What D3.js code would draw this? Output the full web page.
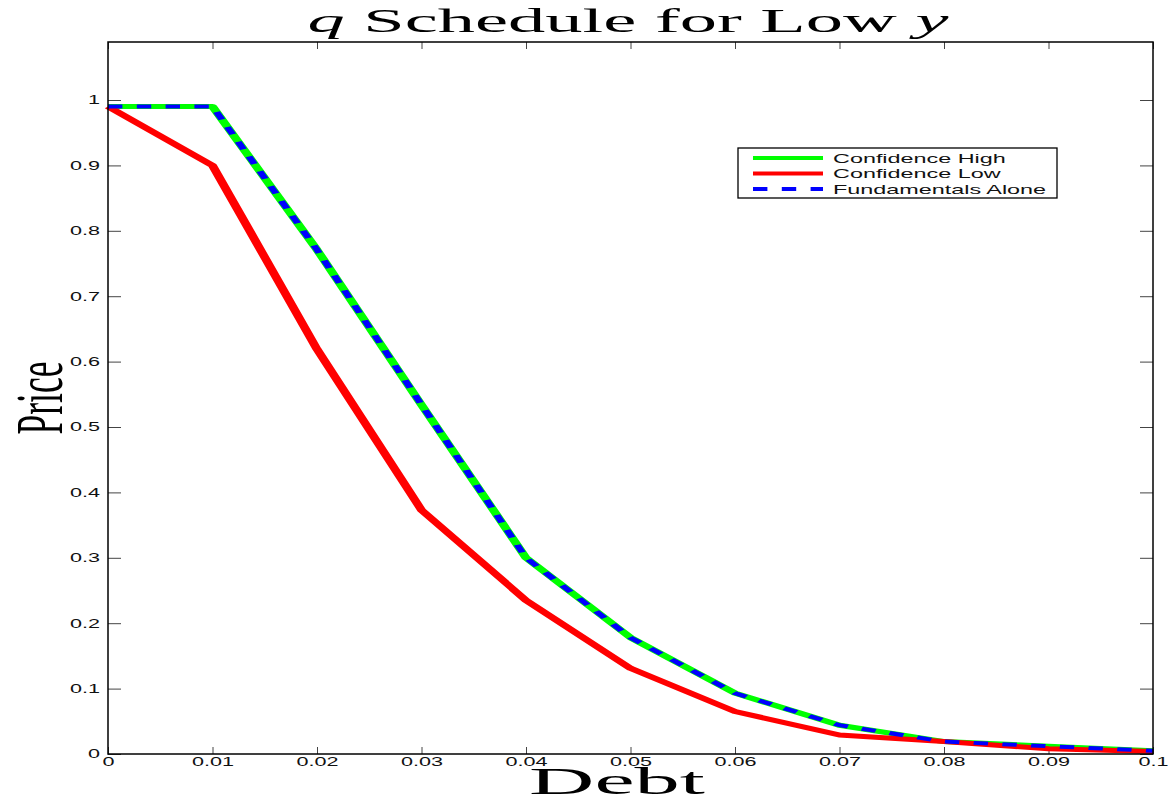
<!DOCTYPE html>
<html>
<head>
<meta charset="utf-8">
<script src="https://cdn.jsdelivr.net/npm/d3@7"></script>
<style>
  html, body { margin: 0; padding: 0; background: #fff; }
  svg { display: block; }
</style>
</head>
<body>
<div id="chart"></div>
<script>
/* ── data ───────────────────────────────────────────── */
const debt = [0, 0.01, 0.02, 0.03, 0.04, 0.05, 0.06, 0.07, 0.08, 0.09, 0.1];
const confHigh = [0.99, 0.99, 0.771, 0.534, 0.300, 0.178, 0.093, 0.044, 0.019, 0.012, 0.005];
const confLow  = [0.99, 0.900, 0.619, 0.373, 0.235, 0.131, 0.065, 0.029, 0.019, 0.008, 0.004];
const fundamentals = [0.99, 0.99, 0.771, 0.534, 0.300, 0.178, 0.093, 0.044, 0.019, 0.012, 0.005];

const xTicks = [0, 0.01, 0.02, 0.03, 0.04, 0.05, 0.06, 0.07, 0.08, 0.09, 0.1];
const xTickLabels = ['0', '0.01', '0.02', '0.03', '0.04', '0.05', '0.06', '0.07', '0.08', '0.09', '0.1'];
const yTicks = [0, 0.1, 0.2, 0.3, 0.4, 0.5, 0.6, 0.7, 0.8, 0.9, 1];
const yTickLabels = ['0', '0.1', '0.2', '0.3', '0.4', '0.5', '0.6', '0.7', '0.8', '0.9', '1'];

const seriesNames = ['Confidence High', 'Confidence Low', 'Fundamentals Alone'];

/* ── layout ─────────────────────────────────────────── */
const W = 1168, H = 798;
const L = 108, R = 1153, T = 42, B = 754;
const SX = 1.8;   // the original picture is stretched sideways

const svg = d3.select('#chart').append('svg')
  .attr('width', W).attr('height', H)
  .attr('viewBox', `0 0 ${W} ${H}`);

const x = d3.scaleLinear().domain([0, 0.1]).range([L, R]);
const y = d3.scaleLinear().domain([0, 1.0887]).range([B, T]);

const sans = 'Liberation Sans, Arial, Helvetica, sans-serif';
const serif = 'Liberation Serif, Times New Roman, DejaVu Serif, serif';

// ── axes ─────────────────────────────────────────────
const axisStyle = sel => sel
  .call(gg => gg.select('.domain').remove())
  .call(gg => gg.selectAll('.tick line').attr('stroke', '#444').attr('stroke-width', 1))
  .call(gg => gg.selectAll('.tick text')
    .attr('fill', '#111')
    .attr('font-family', sans)
    .attr('font-size', 12)
    .attr('transform', `scale(${SX},1)`));

svg.append('g')
  .attr('transform', `translate(0,${B})`)
  .call(d3.axisBottom(x).tickValues(xTicks).tickSize(-7).tickSizeOuter(0).tickPadding(3)
    .tickFormat((d, i) => xTickLabels[i]))
  .call(axisStyle);

svg.append('g')
  .attr('transform', `translate(0,${T})`)
  .call(d3.axisTop(x).tickValues(xTicks).tickSize(-7).tickSizeOuter(0).tickFormat(''))
  .call(axisStyle);

svg.append('g')
  .attr('transform', `translate(${L},0)`)
  .call(d3.axisLeft(y).tickValues(yTicks).tickSize(-13).tickSizeOuter(0).tickPadding(4.4)
    .tickFormat((d, i) => yTickLabels[i]))
  .call(axisStyle);

svg.append('g')
  .attr('transform', `translate(${R},0)`)
  .call(d3.axisRight(y).tickValues(yTicks).tickSize(-13).tickSizeOuter(0).tickFormat(''))
  .call(axisStyle);

// ── lines (drawn in a sideways-stretched group) ─────
const plot = svg.append('g').attr('transform', `scale(${SX},1)`);

const line = vals => d3.line()
  .x((d, i) => x(debt[i]) / SX)
  .y(d => y(d))(vals);

plot.append('path').attr('d', line(confHigh))
  .attr('fill', 'none').attr('stroke', '#00ff00').attr('stroke-width', 5)
  .attr('stroke-linejoin', 'round');
plot.append('path').attr('d', line(confLow))
  .attr('fill', 'none').attr('stroke', '#ff0000').attr('stroke-width', 5)
  .attr('stroke-linejoin', 'round');
plot.append('path').attr('d', line(fundamentals))
  .attr('fill', 'none').attr('stroke', '#0000ff').attr('stroke-width', 4)
  .attr('stroke-dasharray', '8,8');

// frame
svg.append('rect')
  .attr('x', L).attr('y', T).attr('width', R - L).attr('height', B - T)
  .attr('fill', 'none').attr('stroke', '#000').attr('stroke-width', 1.5);

// ── legend ──────────────────────────────────────────
const lg = svg.append('g');
lg.append('rect')
  .attr('x', 738).attr('y', 148).attr('width', 319).attr('height', 50)
  .attr('fill', '#fff').attr('stroke', '#000').attr('stroke-width', 1.3);

const legendStyles = [
  { color: '#00ff00', dash: null },
  { color: '#ff0000', dash: null },
  { color: '#0000ff', dash: '8,8' },
];
const lgLines = lg.append('g').attr('transform', `scale(${SX},1)`);
seriesNames.forEach((name, i) => {
  const cy = 158 + i * 15.5;
  lgLines.append('line')
    .attr('x1', 753 / SX).attr('x2', 823 / SX)
    .attr('y1', cy).attr('y2', cy)
    .attr('stroke', legendStyles[i].color).attr('stroke-width', 4)
    .attr('stroke-dasharray', legendStyles[i].dash);
  lg.append('text')
    .attr('transform', `translate(833,${cy + 4.6}) scale(${SX},1)`)
    .attr('font-family', sans).attr('font-size', 13).attr('fill', '#111')
    .text(name);
});

// ── titles ──────────────────────────────────────────
const title = svg.append('text')
  .attr('transform', `translate(628,32) scale(${SX},1)`)
  .attr('text-anchor', 'middle')
  .attr('font-family', serif).attr('font-size', 34).attr('fill', '#000')
  .attr('textLength', 641 / SX).attr('lengthAdjust', 'spacingAndGlyphs');
title.append('tspan').attr('font-style', 'italic').text('q');
title.append('tspan').text(' Schedule for Low ');
title.append('tspan').attr('font-style', 'italic').text('y');

svg.append('text')
  .attr('transform', `translate(617,794) scale(${SX},1)`)
  .attr('text-anchor', 'middle')
  .attr('font-family', serif).attr('font-size', 37).attr('fill', '#000')
  .attr('textLength', 176 / SX).attr('lengthAdjust', 'spacingAndGlyphs')
  .text('Debt');

svg.append('text')
  .attr('transform', `translate(62,398) scale(${SX},1) rotate(-90)`)
  .attr('text-anchor', 'middle')
  .attr('font-family', serif).attr('font-size', 38).attr('fill', '#000')
  .attr('textLength', 73).attr('lengthAdjust', 'spacingAndGlyphs')
  .text('Price');
</script>
</body>
</html>
